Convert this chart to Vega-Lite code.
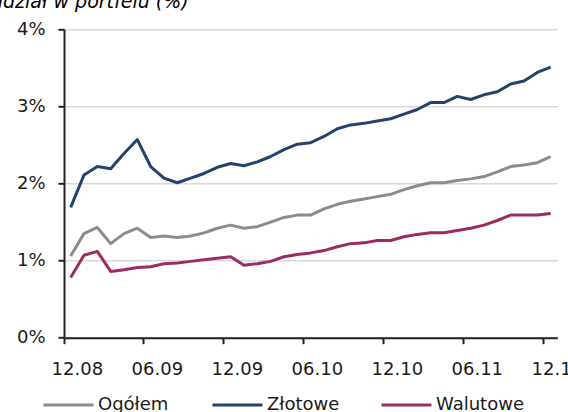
{
  "$schema": "https://vega.github.io/schema/vega-lite/v6.json",
  "autosize": {"type": "none"},
  "width": 493.3,
  "height": 308.4,
  "padding": {"left": 64, "top": 29.3, "right": 10.7, "bottom": 74.3},
  "background": "#ffffff",
  "title": {"text": "udział w portfelu (%)", "anchor": "start", "frame": "group", "fontStyle": "italic", "font": "DejaVu Sans", "fontSize": 19, "fontWeight": "normal", "color": "#000000", "dx": -73, "offset": 8},
  "config": {"view": {"stroke": null}, "font": "DejaVu Sans"},
  "data": {"values": [
    {"m":"12.08","s":"Ogółem","v":1.06},{"m":"01.09","s":"Ogółem","v":1.35},{"m":"02.09","s":"Ogółem","v":1.43},{"m":"03.09","s":"Ogółem","v":1.22},{"m":"04.09","s":"Ogółem","v":1.35},{"m":"05.09","s":"Ogółem","v":1.42},{"m":"06.09","s":"Ogółem","v":1.30},{"m":"07.09","s":"Ogółem","v":1.32},{"m":"08.09","s":"Ogółem","v":1.30},{"m":"09.09","s":"Ogółem","v":1.32},{"m":"10.09","s":"Ogółem","v":1.36},{"m":"11.09","s":"Ogółem","v":1.42},{"m":"12.09","s":"Ogółem","v":1.46},{"m":"01.10","s":"Ogółem","v":1.42},{"m":"02.10","s":"Ogółem","v":1.44},{"m":"03.10","s":"Ogółem","v":1.50},{"m":"04.10","s":"Ogółem","v":1.56},{"m":"05.10","s":"Ogółem","v":1.59},{"m":"06.10","s":"Ogółem","v":1.59},{"m":"07.10","s":"Ogółem","v":1.67},{"m":"08.10","s":"Ogółem","v":1.73},{"m":"09.10","s":"Ogółem","v":1.77},{"m":"10.10","s":"Ogółem","v":1.80},{"m":"11.10","s":"Ogółem","v":1.83},{"m":"12.10","s":"Ogółem","v":1.86},{"m":"01.11","s":"Ogółem","v":1.92},{"m":"02.11","s":"Ogółem","v":1.97},{"m":"03.11","s":"Ogółem","v":2.01},{"m":"04.11","s":"Ogółem","v":2.01},{"m":"05.11","s":"Ogółem","v":2.04},{"m":"06.11","s":"Ogółem","v":2.06},{"m":"07.11","s":"Ogółem","v":2.09},{"m":"08.11","s":"Ogółem","v":2.15},{"m":"09.11","s":"Ogółem","v":2.22},{"m":"10.11","s":"Ogółem","v":2.24},{"m":"11.11","s":"Ogółem","v":2.27},{"m":"12.11","s":"Ogółem","v":2.35},
    {"m":"12.08","s":"Złotowe","v":1.69},{"m":"01.09","s":"Złotowe","v":2.11},{"m":"02.09","s":"Złotowe","v":2.22},{"m":"03.09","s":"Złotowe","v":2.19},{"m":"04.09","s":"Złotowe","v":2.39},{"m":"05.09","s":"Złotowe","v":2.57},{"m":"06.09","s":"Złotowe","v":2.22},{"m":"07.09","s":"Złotowe","v":2.07},{"m":"08.09","s":"Złotowe","v":2.01},{"m":"09.09","s":"Złotowe","v":2.07},{"m":"10.09","s":"Złotowe","v":2.13},{"m":"11.09","s":"Złotowe","v":2.21},{"m":"12.09","s":"Złotowe","v":2.26},{"m":"01.10","s":"Złotowe","v":2.23},{"m":"02.10","s":"Złotowe","v":2.28},{"m":"03.10","s":"Złotowe","v":2.35},{"m":"04.10","s":"Złotowe","v":2.44},{"m":"05.10","s":"Złotowe","v":2.51},{"m":"06.10","s":"Złotowe","v":2.53},{"m":"07.10","s":"Złotowe","v":2.61},{"m":"08.10","s":"Złotowe","v":2.71},{"m":"09.10","s":"Złotowe","v":2.76},{"m":"10.10","s":"Złotowe","v":2.78},{"m":"11.10","s":"Złotowe","v":2.81},{"m":"12.10","s":"Złotowe","v":2.84},{"m":"01.11","s":"Złotowe","v":2.90},{"m":"02.11","s":"Złotowe","v":2.96},{"m":"03.11","s":"Złotowe","v":3.05},{"m":"04.11","s":"Złotowe","v":3.05},{"m":"05.11","s":"Złotowe","v":3.13},{"m":"06.11","s":"Złotowe","v":3.09},{"m":"07.11","s":"Złotowe","v":3.15},{"m":"08.11","s":"Złotowe","v":3.19},{"m":"09.11","s":"Złotowe","v":3.29},{"m":"10.11","s":"Złotowe","v":3.33},{"m":"11.11","s":"Złotowe","v":3.44},{"m":"12.11","s":"Złotowe","v":3.51},
    {"m":"12.08","s":"Walutowe","v":0.78},{"m":"01.09","s":"Walutowe","v":1.07},{"m":"02.09","s":"Walutowe","v":1.12},{"m":"03.09","s":"Walutowe","v":0.86},{"m":"04.09","s":"Walutowe","v":0.88},{"m":"05.09","s":"Walutowe","v":0.91},{"m":"06.09","s":"Walutowe","v":0.92},{"m":"07.09","s":"Walutowe","v":0.96},{"m":"08.09","s":"Walutowe","v":0.97},{"m":"09.09","s":"Walutowe","v":0.99},{"m":"10.09","s":"Walutowe","v":1.01},{"m":"11.09","s":"Walutowe","v":1.03},{"m":"12.09","s":"Walutowe","v":1.05},{"m":"01.10","s":"Walutowe","v":0.94},{"m":"02.10","s":"Walutowe","v":0.96},{"m":"03.10","s":"Walutowe","v":0.99},{"m":"04.10","s":"Walutowe","v":1.05},{"m":"05.10","s":"Walutowe","v":1.08},{"m":"06.10","s":"Walutowe","v":1.10},{"m":"07.10","s":"Walutowe","v":1.13},{"m":"08.10","s":"Walutowe","v":1.18},{"m":"09.10","s":"Walutowe","v":1.22},{"m":"10.10","s":"Walutowe","v":1.23},{"m":"11.10","s":"Walutowe","v":1.26},{"m":"12.10","s":"Walutowe","v":1.26},{"m":"01.11","s":"Walutowe","v":1.31},{"m":"02.11","s":"Walutowe","v":1.34},{"m":"03.11","s":"Walutowe","v":1.36},{"m":"04.11","s":"Walutowe","v":1.36},{"m":"05.11","s":"Walutowe","v":1.39},{"m":"06.11","s":"Walutowe","v":1.42},{"m":"07.11","s":"Walutowe","v":1.46},{"m":"08.11","s":"Walutowe","v":1.52},{"m":"09.11","s":"Walutowe","v":1.59},{"m":"10.11","s":"Walutowe","v":1.59},{"m":"11.11","s":"Walutowe","v":1.59},{"m":"12.11","s":"Walutowe","v":1.61}
  ]},
  "mark": {"type": "line", "strokeWidth": 3, "strokeJoin": "round"},
  "encoding": {
    "x": {
      "field": "m", "type": "ordinal", "sort": null,
      "scale": {"type": "band", "paddingInner": 0, "paddingOuter": 0},
      "axis": {
        "title": null,
        "values": ["12.08","06.09","12.09","06.10","12.10","06.11","12.11"],
        "bandPosition": 0,
        "labelOffset": 6.67,
        "labelAngle": 0,
        "labelFont": "DejaVu Sans", "labelFontSize": 18, "labelColor": "#1a1a1a",
        "labelPadding": 17,
        "labelOverlap": false,
        "labelBound": false,
        "domainColor": "#222222", "domainWidth": 2,
        "tickColor": "#222222", "tickWidth": 2, "tickSize": 6,
        "grid": false
      }
    },
    "y": {
      "field": "v", "type": "quantitative",
      "scale": {"domain": [0, 4], "nice": false},
      "axis": {
        "title": null,
        "values": [0, 1, 2, 3, 4],
        "labelExpr": "datum.value + '%'",
        "labelFont": "DejaVu Sans", "labelFontSize": 18, "labelColor": "#1a1a1a",
        "labelPadding": 13,
        "domainColor": "#222222", "domainWidth": 2,
        "tickColor": "#222222", "tickWidth": 2, "tickSize": 6,
        "grid": true, "gridColor": "#d9d9d9", "gridWidth": 1.5
      }
    },
    "color": {
      "field": "s", "type": "nominal",
      "scale": {"domain": ["Ogółem", "Złotowe", "Walutowe"], "range": ["#8c8c8c", "#24426b", "#9b2c62"]},
      "legend": {
        "title": null,
        "orient": "none",
        "direction": "horizontal",
        "legendX": -22,
        "legendY": 349,
        "padding": 0,
        "symbolType": "stroke",
        "symbolSize": 2500,
        "symbolStrokeWidth": 3,
        "labelFont": "DejaVu Sans", "labelFontSize": 18, "labelColor": "#1a1a1a",
        "labelOffset": 3,
        "gridAlign": "all",
        "columnPadding": 20
      }
    }
  }
}
